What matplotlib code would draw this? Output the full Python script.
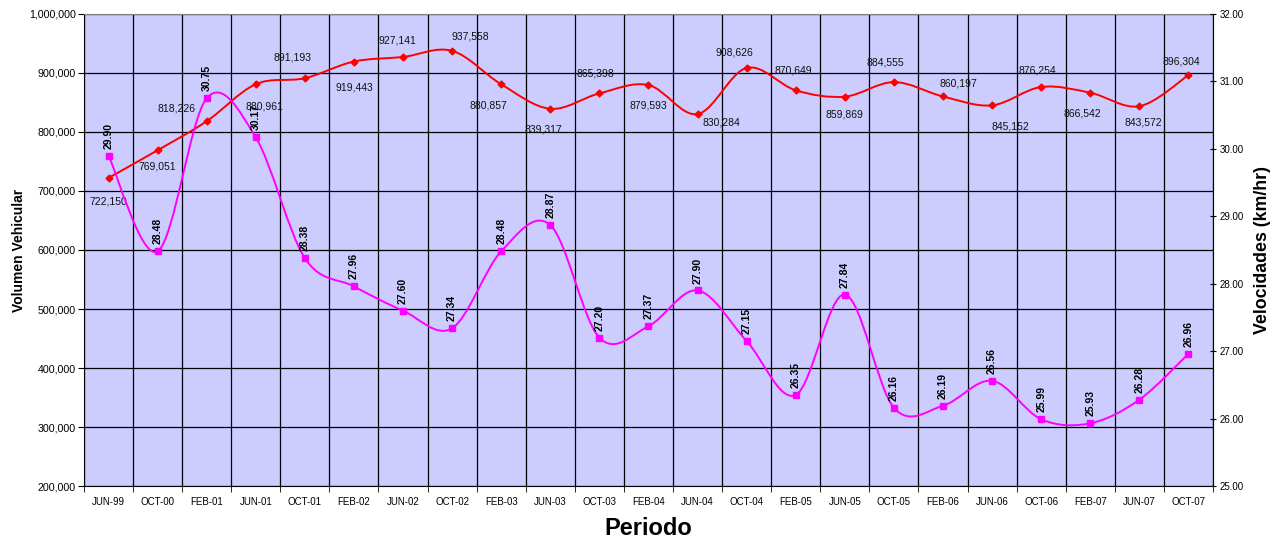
import numpy as np
import matplotlib.pyplot as plt
from matplotlib.path import Path
from matplotlib.patches import PathPatch

plt.rcParams['font.family'] = ['Liberation Sans', 'DejaVu Sans']

periodos = ["JUN-99", "OCT-00", "FEB-01", "JUN-01", "OCT-01", "FEB-02", "JUN-02",
            "OCT-02", "FEB-03", "JUN-03", "OCT-03", "FEB-04", "JUN-04", "OCT-04",
            "FEB-05", "JUN-05", "OCT-05", "FEB-06", "JUN-06", "OCT-06", "FEB-07",
            "JUN-07", "OCT-07"]

volumen = [722150, 769051, 818226, 880961, 891193, 919443, 927141, 937558,
           880857, 839317, 865398, 879593, 830284, 908626, 870649, 859869,
           884555, 860197, 845152, 876254, 866542, 843572, 896304]

velocidad = [29.90, 28.48, 30.75, 30.17, 28.38, 27.96, 27.60, 27.34, 28.48,
             28.87, 27.20, 27.37, 27.90, 27.15, 26.35, 27.84, 26.16, 26.19,
             26.56, 25.99, 25.93, 26.28, 26.96]

# offsets (points) for the volume labels, relative to each marker
vol_offsets = [(0, -17), (0, -12), (-22, 9), (6, -16), (-9, 15), (0, -19),
               (-4, 12), (13, 10), (-9, -15), (-5, -15), (-3, 14), (0, -15),
               (17, -6), (-9, 11), (-2, 14), (0, -13), (-6, 14), (11, 9),
               (13, -15), (-3, 12), (-6, -15), (3, -12), (-5, 10)]


def smooth_path(xs, ys):
    # Catmull-Rom style cubic Bezier through every point (spreadsheet "smoothed line")
    pts = np.column_stack([xs, ys]).astype(float)
    n = len(pts)
    verts = [pts[0]]
    codes = [Path.MOVETO]
    for i in range(n - 1):
        p0 = pts[i - 1] if i > 0 else pts[i]
        p1 = pts[i]
        p2 = pts[i + 1]
        p3 = pts[i + 2] if i + 2 < n else pts[i + 1]
        c1 = p1 + (p2 - p0) / 6.0
        c2 = p2 - (p3 - p1) / 6.0
        verts += [c1, c2, p2]
        codes += [Path.CURVE4] * 3
    return Path(verts, codes)


fig = plt.figure(figsize=(12.76, 5.42), dpi=100)
ax = fig.add_axes([0.0658, 0.1033, 0.8848, 0.8709])
ax.set_facecolor('#CCCCFF')
x = np.arange(len(periodos))

ax.set_xlim(-0.5, len(periodos) - 0.5)
ax.set_ylim(200000, 1000000)
ax.set_yticks(np.arange(200000, 1000001, 100000))
ax.yaxis.set_major_formatter(plt.FuncFormatter(lambda v, p: f"{int(v):,}"))
ax.set_xticks(x)
ax.set_xticklabels(periodos, fontsize=7)
ax.set_xticks(np.arange(-0.5, len(periodos)), minor=True)
ax.tick_params(axis='x', which='major', length=0, pad=8)
ax.tick_params(axis='x', which='minor', length=4, direction='out')
ax.tick_params(axis='y', labelsize=7.7, length=4, direction='out', pad=2)
ax.grid(True, axis='y', which='major', color='black', lw=0.9)
ax.grid(True, axis='x', which='minor', color='black', lw=0.9)
ax.set_axisbelow(True)
for s in ['top', 'right']:
    ax.spines[s].set_color('#808080')
ax.spines['left'].set_color('black')
ax.spines['bottom'].set_color('black')

ax.add_patch(PathPatch(smooth_path(x, volumen), fill=False, edgecolor='#FF0000',
                       lw=1.4, zorder=3))
ax.plot(x, volumen, ls='none', marker='D', ms=3.5, color='#FF0000', zorder=4)
for xi, v, off in zip(x, volumen, vol_offsets):
    ax.annotate(f"{v:,}", (xi, v), xytext=off, textcoords='offset points',
                ha='center', va='center', fontsize=7.5, color='#111111', zorder=5)

ax.set_ylabel("Volumen Vehicular", fontsize=10, fontweight='bold', labelpad=2)
ax.set_xlabel("Periodo", fontsize=17, fontweight='bold', labelpad=7)

ax2 = ax.twinx()
ax2.set_ylim(25, 32)
ax2.set_yticks(np.arange(25, 32.01, 1))
ax2.yaxis.set_major_formatter(plt.FuncFormatter(lambda v, p: f"{v:.2f}"))
ax2.tick_params(axis='y', labelsize=7, length=4, direction='inout', pad=3)
ax2.spines['right'].set_color('black')
ax2.spines['top'].set_visible(False)
ax2.spines['left'].set_visible(False)
ax2.spines['bottom'].set_visible(False)

ax2.add_patch(PathPatch(smooth_path(x, velocidad), fill=False, edgecolor='#FF00FF',
                        lw=1.4, zorder=3))
ax2.plot(x, velocidad, ls='none', marker='s', ms=4, color='#FF00FF', zorder=4)
for xi, v in zip(x, velocidad):
    ax2.annotate(f"{v:.2f}", (xi, v), xytext=(0, 5), textcoords='offset points',
                 ha='center', va='bottom', rotation=90, fontsize=7.5,
                 fontweight='bold', color='black', zorder=5)

ax2.set_ylabel("Velocidades (km/hr)", fontsize=12.8, fontweight='bold', labelpad=7)

fig.savefig("out.png", dpi=100)
